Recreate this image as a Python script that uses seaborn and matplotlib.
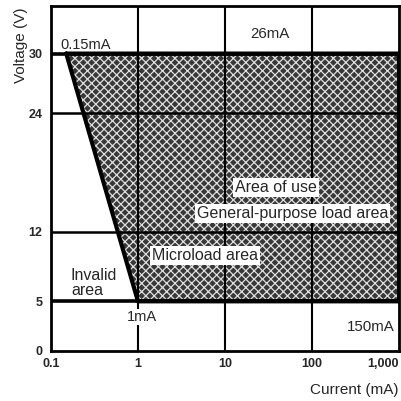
import matplotlib
matplotlib.use("Agg")
import matplotlib.pyplot as plt
import seaborn as sns
import pandas as pd

# usable area outline (current in mA, voltage in V)
area_current = [0.15, 1000, 1000, 1, 0.15]
area_voltage = [30, 30, 5, 5, 30]

volt_ticks = [0, 5, 12, 24, 30]
curr_ticks = [0.1, 1, 10, 100, 1000]
curr_labels = ["0.1", "1", "10", "100", "1,000"]
grid_volts = [12, 24]
edge_volts = [5, 30]
grid_currents = [1, 10, 100]

sns.set_style("white")
plt.rcParams["font.family"] = ["Liberation Sans", "DejaVu Sans"]
plt.rcParams["hatch.linewidth"] = 0.9

fig = plt.figure(figsize=(4.01, 4.01), dpi=100)
ax = fig.add_axes([0.127, 0.125, 0.868, 0.86])
ax.set_xscale("log")
ax.set_xlim(0.1, 1000)
ax.set_ylim(0, 34.8)

# shaded area of use
ax.fill(area_current[:-1], area_voltage[:-1], facecolor="#383838",
        hatch="xxxx", edgecolor="#e0e0e0", linewidth=0, zorder=1)

for v in grid_volts:
    ax.axhline(v, color="black", lw=1.8, zorder=2)
for v in edge_volts:
    ax.axhline(v, color="black", lw=2.6, zorder=2)
for c in grid_currents:
    ax.axvline(c, color="black", lw=1.5, zorder=2)

df = pd.DataFrame({"current": area_current, "voltage": area_voltage})
sns.lineplot(data=df, x="current", y="voltage", sort=False, estimator=None,
             color="black", lw=3, ax=ax, zorder=3)

ax.set_xticks(curr_ticks)
ax.set_xticklabels(curr_labels)
ax.set_yticks(volt_ticks)
ax.minorticks_off()
ax.tick_params(axis="x", length=0, pad=5, labelsize=9)
ax.tick_params(axis="y", length=5, width=1.5, direction="out", pad=1, labelsize=9)
for lab in ax.get_xticklabels() + ax.get_yticklabels():
    lab.set_fontweight("bold")
ax.get_xticklabels()[-1].set_ha("right")
ax.set_xlabel("")
ax.set_ylabel("")
for s in ax.spines.values():
    s.set_color("black")
    s.set_linewidth(2)

box = dict(facecolor="white", edgecolor="none", pad=1.5)
ax.text(0.128, 30.9, "0.15mA", fontsize=10.5, va="center", ha="left")
ax.text(33, 32.0, "26mA", fontsize=10.8, va="center", ha="center")
ax.text(880, 2.4, "150mA", fontsize=10.8, va="center", ha="right")
ax.text(1.1, 3.4, "1mA", fontsize=10.5, va="center", ha="center",
        bbox=dict(facecolor="white", edgecolor="none", pad=0.5), zorder=4)
ax.text(0.17, 6.8, "Invalid\narea", fontsize=11.5, va="center", ha="left",
        linespacing=1.0)
ax.text(5.9, 9.6, "Microload area", fontsize=11.5, va="center", ha="center",
        bbox=box, zorder=4)
ax.text(39, 16.5, "Area of use", fontsize=11.5, va="center", ha="center",
        bbox=box, zorder=4)
ax.text(60, 13.9, "General-purpose load area", fontsize=11.5, va="center",
        ha="center", bbox=box, zorder=4)

fig.text(0.052, 0.888, "Voltage (V)", rotation=90, fontsize=11,
         va="center", ha="center")
fig.text(0.995, 0.027, "Current (mA)", fontsize=11, va="center", ha="right")

fig.savefig("out.png", dpi=100)
